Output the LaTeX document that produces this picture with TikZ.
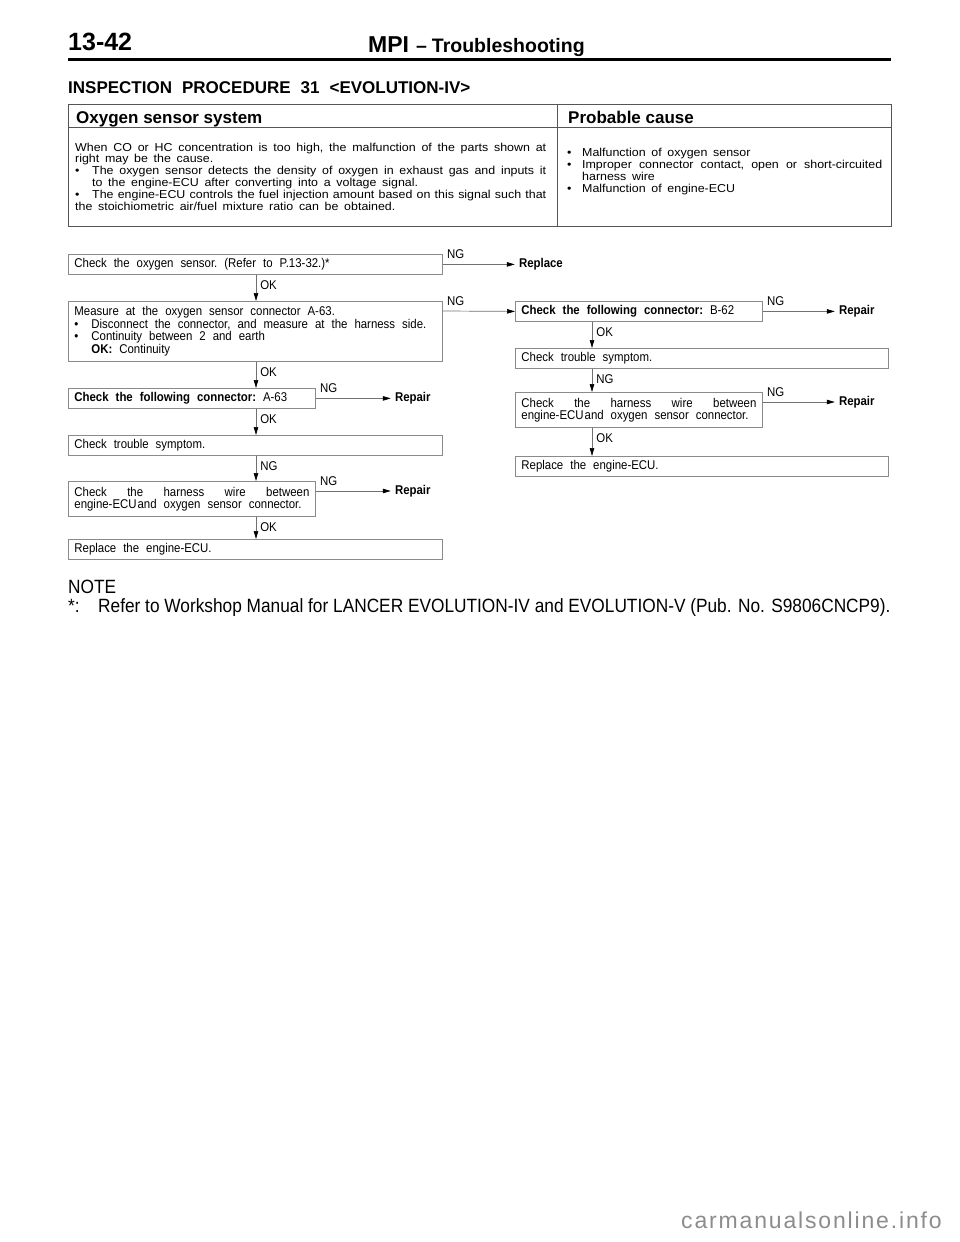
\documentclass[tikz,border=0pt]{standalone}
\usepackage{fontspec}
\setmainfont{Liberation Sans}
\newfontfamily\narrowfont{Liberation Sans}[FakeStretch=0.9]
\newfontfamily\widefont{Liberation Sans}[FakeStretch=1.08]
\newfontfamily\markfont{Liberation Sans}[LetterSpace=8]
\usetikzlibrary{arrows.meta,positioning}

\definecolor{boxgray}{HTML}{8A8A8A}
\definecolor{linegray}{HTML}{707070}
\definecolor{tablegray}{HTML}{555555}
\definecolor{markgray}{HTML}{8C8C8C}

\hyphenpenalty=10000
\exhyphenpenalty=10000
\tolerance=9999

\newcommand{\flowspace}{\frenchspacing\spaceskip=7pt plus 4pt minus 2pt\relax}
\newcommand{\flowsize}{\narrowfont\fontsize{12.7}{11.8}\selectfont\flowspace}
\newcommand{\tblsize}{\widefont\fontsize{11.5}{11.8}\selectfont\frenchspacing\spaceskip=5.7pt plus 3pt minus 2pt\relax}
\newcommand{\titlesize}{\fontsize{17}{17}\selectfont\spaceskip=10pt\relax}
\newcommand{\bul}[1][17pt]{\par\hangindent=#1\hangafter=1\noindent\makebox[#1][l]{\textbullet}\ignorespaces}
\newcommand{\itm}{\makebox[17pt][l]{\textbullet}}

\tikzset{
	chkbox/.style={draw=boxgray, line width=0.8pt, anchor=north west, inner xsep=6pt, inner ysep=3pt,
		font=\flowsize, align=flush left, execute at begin node=\flowspace, minimum height=20pt},
	endtxt/.style={anchor=west, inner xsep=4pt, font=\flowsize\bfseries},
	lbl/.style={inner xsep=4pt, inner ysep=5pt, font=\flowsize},
	flow/.style={->, draw=linegray, line width=0.7pt},
	tbltext/.style={anchor=base west, inner sep=0pt, font=\tblsize, align=justify},
}

\begin{document}
\begin{tikzpicture}[x=1pt, y=-1pt, >={Triangle[length=8pt,width=4.5pt,color=black]}]
	\useasboundingbox (0,0) rectangle (960,1242);

	% page head
	\node[anchor=base west, inner sep=0pt, font=\bfseries\fontsize{25}{25}\selectfont] (pageno) at (68,50) {13-42};
	\node[anchor=base west, inner sep=0pt, font=\bfseries\fontsize{23}{23}\selectfont] (section) at (368,52)
		{MPI\hspace{7pt}{\fontsize{19.5}{20}\selectfont –\hspace{5pt}Troubleshooting}};
	\draw[line width=2.7pt] (68,59.5) -- (891,59.5);
	\node[anchor=base west, inner sep=0pt, font=\bfseries\titlesize] (title) at (68,93)
		{INSPECTION PROCEDURE 31 <EVOLUTION-IV>};

	% table
	\draw[tablegray, line width=1pt] (68,104) rectangle (891,226);
	\draw[tablegray, line width=0.8pt] (68,127) -- (891,127);
	\draw[tablegray, line width=0.8pt] (557,104) -- (557,226);
	\node[anchor=base west, inner sep=0pt, font=\bfseries\fontsize{17}{17}\selectfont] (systemhead) at (76,123) {Oxygen sensor system};
	\node[anchor=base west, inner sep=0pt, font=\bfseries\fontsize{17}{17}\selectfont] (causehead) at (568,123) {Probable cause};
	\node[tbltext, text width=471pt] (systemtext) at (75,151) {%
		\noindent When CO or HC concentration is too high, the malfunction of the parts shown at\linebreak right may be the cause.
		\bul The oxygen sensor detects the density of oxygen in exhaust gas and inputs it\linebreak to the engine-ECU after converting into a voltage signal.
		\bul The engine-ECU controls the fuel injection amount based on this signal such that\linebreak the stoichiometric air/fuel mixture ratio can be obtained.};
	\node[tbltext, text width=315pt] (causetext) at (567,145) {%
		\bul[15pt] Malfunction of oxygen sensor
		\bul[15pt] Improper connector contact, open or short-circuited\linebreak harness wire
		\bul[15pt] Malfunction of engine-ECU};

	% flow chart, left column
	\coordinate (lx) at (256,0);
	\coordinate (rx) at (592,0);
	\node[chkbox, text width=362pt] (sensor) at (68,254) {Check the oxygen sensor. (Refer to P.13-32.)*};
	\node[chkbox, text width=362pt, minimum height=60pt] (measure) at (68,301) {Measure at the oxygen sensor connector A-63.\\
		\itm Disconnect the connector, and measure at the harness side.\\
		\itm Continuity between 2 and earth\\
		\hspace*{17pt}\textbf{OK:} Continuity};
	\node[chkbox, text width=235pt] (connA) at (68,388) {\textbf{Check the following connector:} A-63};
	\node[chkbox, text width=362pt] (symptomL) at (68,435) {Check trouble symptom.};
	\node[chkbox, text width=235pt, minimum height=35pt, align=justify] (harnessL) at (68,481)
		{Check the harness wire between\linebreak engine-ECU\hspace{1pt}and oxygen sensor connector.};
	\node[chkbox, text width=362pt] (ecuL) at (68,539) {Replace the engine-ECU.};

	% flow chart, right column
	\node[chkbox, text width=235pt] (connB) at (515,301) {\textbf{Check the following connector:} B-62};
	\node[chkbox, text width=361pt] (symptomR) at (515,348) {Check trouble symptom.};
	\node[chkbox, text width=235pt, minimum height=35pt, align=justify] (harnessR) at (515,392)
		{Check the harness wire between\linebreak engine-ECU\hspace{1pt}and oxygen sensor connector.};
	\node[chkbox, text width=361pt] (ecuR) at (515,456) {Replace the engine-ECU.};

	\node[endtxt, right=72pt of sensor.east] (replace) {Replace};
	\node[endtxt, right=75pt of connA.east] (repairA) {Repair};
	\node[endtxt, right=75pt of harnessL.north east, yshift=-10pt] (repairL) {Repair};
	\node[endtxt, right=72pt of connB.east] (repairB) {Repair};
	\node[endtxt, right=72pt of harnessR.north east, yshift=-10pt] (repairR) {Repair};

	\draw[flow] (sensor.east) -- node[lbl, pos=0, above right] (ng1) {NG} (replace.west);
	\draw[flow] (sensor.south -| lx) -- node[lbl, pos=0, below right] (ok1) {OK} (measure.north -| lx);
	\draw[flow] ([yshift=-10pt]measure.north east) -- node[lbl, pos=0, above right] (ng2) {NG} (connB.west);
	\draw[flow] (measure.south -| lx) -- node[lbl, pos=0, below right] (ok2) {OK} (connA.north -| lx);
	\draw[flow] (connA.east) -- node[lbl, pos=0, above right] (ng3) {NG} (repairA.west);
	\draw[flow] (connA.south -| lx) -- node[lbl, pos=0, below right] (ok3) {OK} (symptomL.north -| lx);
	\draw[flow] (symptomL.south -| lx) -- node[lbl, pos=0, below right] (ng4) {NG} (harnessL.north -| lx);
	\draw[flow] ([yshift=-10pt]harnessL.north east) -- node[lbl, pos=0, above right] (ng5) {NG} (repairL.west);
	\draw[flow] (harnessL.south -| lx) -- node[lbl, pos=0, below right] (ok4) {OK} (ecuL.north -| lx);

	\draw[flow] (connB.east) -- node[lbl, pos=0, above right] (ng6) {NG} (repairB.west);
	\draw[flow] (connB.south -| rx) -- node[lbl, pos=0, below right] (ok5) {OK} (symptomR.north -| rx);
	\draw[flow] (symptomR.south -| rx) -- node[lbl, pos=0, below right] (ng7) {NG} (harnessR.north -| rx);
	\draw[flow] ([yshift=-10pt]harnessR.north east) -- node[lbl, pos=0, above right] (ng8) {NG} (repairR.west);
	\draw[flow] (harnessR.south -| rx) -- node[lbl, pos=0, below right] (ok6) {OK} (ecuR.north -| rx);

	% note
	\node[anchor=base west, inner sep=0pt, font=\narrowfont\fontsize{19.2}{19}\selectfont] (notehead) at (68,593) {NOTE};
	\node[anchor=base west, inner sep=0pt, font=\narrowfont\fontsize{19.2}{19}\selectfont] (notetext) at (68,612)
		{\makebox[30pt][l]{*:}Refer to Workshop Manual for LANCER EVOLUTION-IV and EVOLUTION-V (Pub. No. S9806CNCP9).};

	\node[anchor=base west, inner sep=0pt, text=markgray, font=\markfont\fontsize{23}{23}\selectfont] (watermark) at (681,1228)
		{carmanualsonline.info};
\end{tikzpicture}
\end{document}
